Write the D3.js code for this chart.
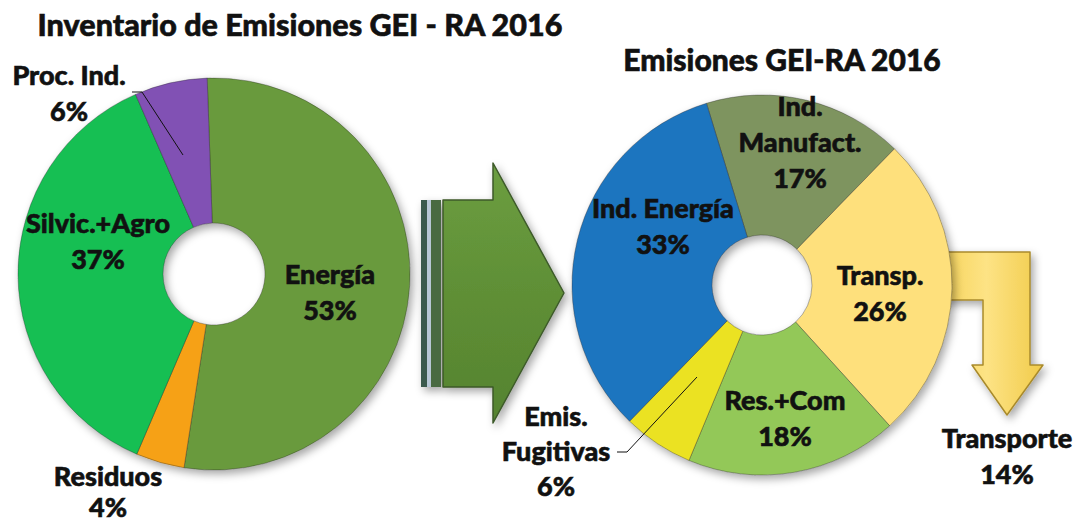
<!DOCTYPE html>
<html>
<head>
<meta charset="utf-8">
<script src="https://cdn.jsdelivr.net/npm/d3@7"></script>
<style>
  body { margin: 0; background: #fff; }
  svg { display: block; }
  text { font-family: Lato, "Open Sans", sans-serif; font-weight: 900; fill: #111; stroke: #111; stroke-width: 0.6px; }
</style>
</head>
<body>
<svg id="chart" width="1075" height="524"></svg>
<script>
// ---- Data ----
const leftTitle = "Inventario de Emisiones GEI - RA 2016";
const rightTitle = "Emisiones GEI-RA 2016";
const leftCategories = ["Energía", "Residuos", "Silvic.+Agro", "Proc. Ind."];
const leftValues = [53, 4, 37, 6];
const rightCategories = ["Ind. Manufact.", "Transp.", "Res.+Com", "Emis. Fugitivas", "Ind. Energía"];
const rightValues = [17, 26, 18, 6, 33];
const subCategory = "Transporte";
const subValue = 14;

// ---- Styles / layout (kept separate from data) ----
const leftColors = {"Energía": "#699a3c", "Residuos": "#f6a116", "Silvic.+Agro": "#12bf53", "Proc. Ind.": "#8151b4"};
const rightColors = {"Ind. Manufact.": "#7e945f", "Transp.": "#fee07c", "Res.+Com": "#93c858", "Emis. Fugitivas": "#ebe220", "Ind. Energía": "#1f74bf"};

const svg = d3.select("#chart");
const W = 1075, H = 524;
svg.append("rect").attr("width", W).attr("height", H).attr("fill", "#fff");

const defs = svg.append("defs");
const sh = defs.append("filter").attr("id", "shadow").attr("x", "-20%").attr("y", "-20%").attr("width", "140%").attr("height", "140%");
sh.append("feDropShadow").attr("dx", 3).attr("dy", 4).attr("stdDeviation", 4).attr("flood-color", "#000").attr("flood-opacity", 0.35);

const gGreen = defs.append("linearGradient").attr("id", "gGreen").attr("x1", 0).attr("y1", 0).attr("x2", 0).attr("y2", 1);
gGreen.append("stop").attr("offset", "0%").attr("stop-color", "#6c9e40");
gGreen.append("stop").attr("offset", "50%").attr("stop-color", "#5f8f36");
gGreen.append("stop").attr("offset", "100%").attr("stop-color", "#55832f");

const gYel = defs.append("linearGradient").attr("id", "gYel").attr("x1", 0).attr("y1", 0).attr("x2", 1).attr("y2", 0);
gYel.append("stop").attr("offset", "0%").attr("stop-color", "#f5d050");
gYel.append("stop").attr("offset", "50%").attr("stop-color", "#fde385");
gYel.append("stop").attr("offset", "100%").attr("stop-color", "#f1cb4a");

// ---- Arrows (behind donuts) ----
const arrowG = svg.append("g").attr("filter", "url(#shadow)");
arrowG.append("rect").attr("x", 421).attr("y", 200).attr("width", 6).attr("height", 187).attr("fill", "#3b5a4e");
arrowG.append("rect").attr("x", 427).attr("y", 200).attr("width", 4).attr("height", 187).attr("fill", "#b8c7d6");
arrowG.append("rect").attr("x", 431).attr("y", 200).attr("width", 10).attr("height", 187).attr("fill", "#4a6a43");
arrowG.append("path")
  .attr("d", d3.line()([[443, 200], [493, 200], [493, 163], [564, 293], [493, 423], [493, 387], [443, 387]]) + "Z")
  .attr("fill", "url(#gGreen)").attr("stroke", "#3d5a2a").attr("stroke-width", 1.5).attr("stroke-linejoin", "round");

const yG = svg.append("g").attr("filter", "url(#shadow)");
yG.append("path")
  .attr("d", d3.line()([[930, 252], [1030, 252], [1030, 365], [1043, 365], [1007, 415], [972, 365], [983, 365], [983, 300], [930, 300]]) + "Z")
  .attr("fill", "url(#gYel)").attr("stroke", "#a98a2c").attr("stroke-width", 1.5).attr("stroke-linejoin", "round");

// ---- Donuts ----
function donut(cx, cy, rOuter, rInner, cats, vals, colors, startDeg) {
  const data = cats.map((c, i) => ({cat: c, value: vals[i]}));
  const start = startDeg * Math.PI / 180;
  const pie = d3.pie().value(d => d.value).sort(null).startAngle(start).endAngle(start + 2 * Math.PI);
  const arc = d3.arc().innerRadius(rInner).outerRadius(rOuter);
  const g = svg.append("g").attr("transform", `translate(${cx},${cy})`).attr("filter", "url(#shadow)");
  g.selectAll("path").data(pie(data)).join("path")
    .attr("d", arc)
    .attr("fill", d => colors[d.data.cat])
    .attr("stroke", "rgba(40,40,40,0.35)")
    .attr("stroke-width", 1);
  return g;
}

donut(214, 274, 196, 51, leftCategories, leftValues, leftColors, -2);
donut(762, 285, 190, 50, rightCategories, rightValues, rightColors, -17);

// ---- Titles ----
svg.append("text").attr("x", 300).attr("y", 36).attr("text-anchor", "middle").style("font-size", "30.5px").text(leftTitle);
svg.append("text").attr("x", 782).attr("y", 71).attr("text-anchor", "middle").style("font-size", "30px").text(rightTitle);

// ---- Labels ----
const fmt = v => v + "%";
function label(x, y, lines, size, gap) {
  const t = svg.append("text").attr("text-anchor", "middle").style("font-size", (size || 27) + "px");
  lines.forEach((l, i) => t.append("tspan").attr("x", x).attr("y", y + i * (gap || 36)).text(l));
}
const lv = (c) => leftValues[leftCategories.indexOf(c)];
const rv = (c) => rightValues[rightCategories.indexOf(c)];

label(69, 85, ["Proc. Ind.", fmt(lv("Proc. Ind."))]);
label(98, 233, ["Silvic.+Agro", fmt(lv("Silvic.+Agro"))]);
label(330, 284, ["Energía", fmt(lv("Energía"))]);
label(108, 486, ["Residuos", fmt(lv("Residuos"))], 27, 31);

label(800, 116, ["Ind.", "Manufact.", fmt(rv("Ind. Manufact."))]);
label(663, 218, ["Ind. Energía", fmt(rv("Ind. Energía"))]);
label(880, 285, ["Transp.", fmt(rv("Transp."))]);
label(785, 410, ["Res.+Com", fmt(rv("Res.+Com"))]);
label(556, 426, ["Emis.", "Fugitivas", fmt(rv("Emis. Fugitivas"))], 27, 35);
label(1007, 448, [subCategory, fmt(subValue)]);

// leader lines
svg.append("path").attr("d", d3.line()([[132, 92], [142, 92], [183, 155]]))
  .attr("fill", "none").attr("stroke", "#111").attr("stroke-width", 1);
svg.append("path").attr("d", d3.line()([[617, 452], [627, 452], [697, 377]]))
  .attr("fill", "none").attr("stroke", "#111").attr("stroke-width", 1);
</script>
</body>
</html>
